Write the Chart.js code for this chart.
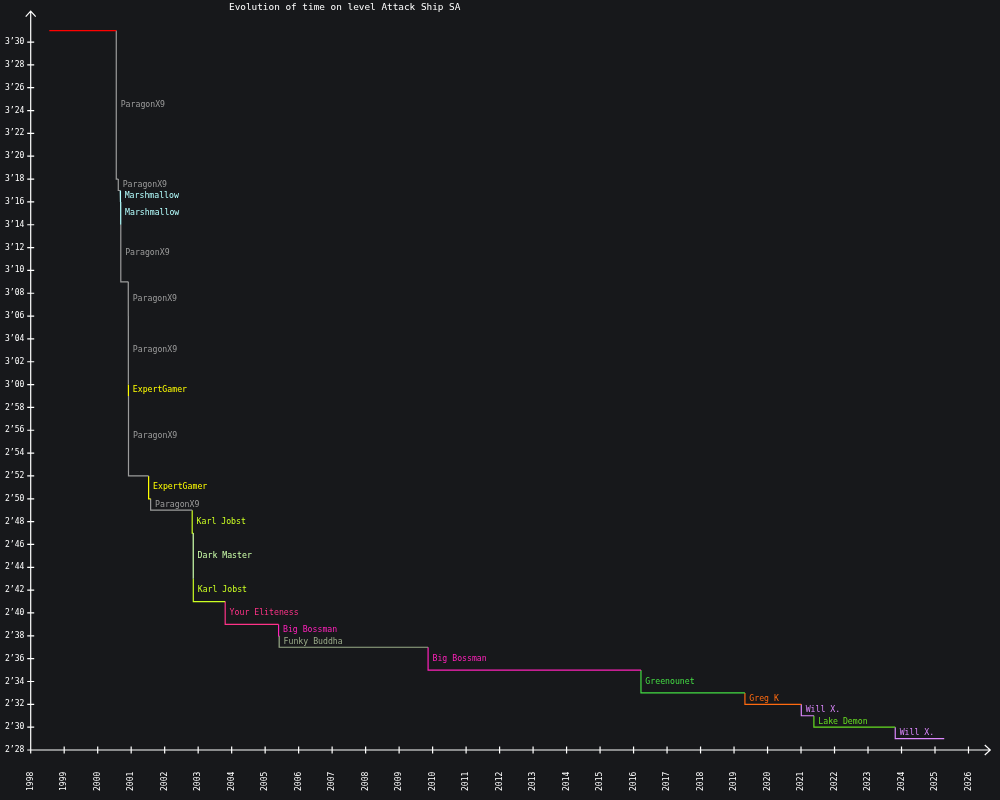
<!DOCTYPE html>
<html>
<head>
<meta charset="utf-8">
<script src="https://cdn.jsdelivr.net/npm/chart.js@4/dist/chart.umd.min.js"></script>
<style>
  html, body { margin: 0; padding: 0; background: #17181b; }
  #wrap { width: 1000px; height: 800px; }
</style>
</head>
<body>
<div id="wrap"><canvas id="c" width="1000" height="800"></canvas></div>
<script>
// ---- data ----
const chartTitle = "Evolution of time on level Attack Ship SA";
const holders = ["", "ParagonX9", "ParagonX9", "Marshmallow", "Marshmallow", "ParagonX9",
  "ParagonX9", "ParagonX9", "ExpertGamer", "ParagonX9", "ExpertGamer", "ParagonX9",
  "Karl Jobst", "Dark Master", "Karl Jobst", "Your Eliteness", "Big Bossman", "Funky Buddha",
  "Big Bossman", "Greenounet", "Greg K", "Will X.", "Lake Demon", "Will X."];
const recordDates = [1998.555, 2000.555, 2000.615, 2000.674, 2000.686, 2000.69,
  2000.913, 2000.915, 2000.917, 2000.92, 2001.521, 2001.581,
  2002.822, 2002.852, 2002.855, 2003.807, 2005.401, 2005.419,
  2009.865, 2016.221, 2019.325, 2021.008, 2021.384, 2023.813];
const recordTimes = [211, 198, 197, 196, 194, 189,
  186, 180, 179, 172, 170, 169,
  167, 163, 161, 159, 158, 157,
  155, 153, 152, 151, 150, 149];
const lastDate = 2025.275;
const holderColors = ["#ff0000", "#9c9c9c", "#9c9c9c", "#b4ffff", "#b4ffff", "#9c9c9c",
  "#9c9c9c", "#9c9c9c", "#ffff00", "#9c9c9c", "#ffff00", "#9c9c9c",
  "#ccff22", "#ccffaa", "#ccff22", "#ff3388", "#ff22bb", "#99aa88",
  "#ff22bb", "#44dd44", "#ff6a10", "#dd88ff", "#66dd22", "#dd88ff"];
const xTickYears = [1998,1999,2000,2001,2002,2003,2004,2005,2006,2007,2008,2009,2010,2011,
  2012,2013,2014,2015,2016,2017,2018,2019,2020,2021,2022,2023,2024,2025,2026];
const yTickSeconds = [148,150,152,154,156,158,160,162,164,166,168,170,172,174,176,178,180,
  182,184,186,188,190,192,194,196,198,200,202,204,206,208,210];

const FONT = "'DejaVu Sans Mono', monospace";

function fmtTime(v) {
  const m = Math.floor(v / 60), s = Math.round(v - m * 60);
  return m + "\u2019" + String(s).padStart(2, "0");
}

// ---- datasets: one step (vertical drop + horizontal run) per record ----
const datasets = recordDates.map((d, i) => {
  const next = i + 1 < recordDates.length ? recordDates[i + 1] : lastDate;
  const pts = [];
  if (i > 0) pts.push({ x: d, y: recordTimes[i - 1] });
  pts.push({ x: d, y: recordTimes[i] });
  pts.push({ x: next, y: recordTimes[i] });
  return {
    data: pts,
    showLine: true,
    borderColor: holderColors[i],
    backgroundColor: holderColors[i],
    borderWidth: 1.2,
    pointRadius: 0,
    tension: 0,
    fill: false
  };
});

const overlay = {
  id: "overlay",
  afterDraw(chart) {
    const ctx = chart.ctx, xs = chart.scales.x, ys = chart.scales.y;
    const a = chart.chartArea;
    ctx.save();
    // title
    ctx.fillStyle = "#ffffff";
    ctx.font = "9.4px " + FONT;
    ctx.textAlign = "left";
    ctx.textBaseline = "middle";
    ctx.fillText(chartTitle, 229, 8);
    // axes
    ctx.strokeStyle = "#ffffff";
    ctx.lineWidth = 1.2;
    ctx.beginPath();
    ctx.moveTo(a.left, a.bottom); ctx.lineTo(a.left, a.top);
    ctx.moveTo(a.left - 5, a.top + 5.5); ctx.lineTo(a.left, a.top); ctx.lineTo(a.left + 5, a.top + 5.5);
    ctx.moveTo(a.left, a.bottom); ctx.lineTo(a.right, a.bottom);
    ctx.moveTo(a.right - 5.5, a.bottom - 5); ctx.lineTo(a.right, a.bottom); ctx.lineTo(a.right - 5.5, a.bottom + 5);
    xTickYears.forEach(v => {
      const px = xs.getPixelForValue(v);
      ctx.moveTo(px, a.bottom - 3.5); ctx.lineTo(px, a.bottom + 3.5);
    });
    yTickSeconds.forEach(v => {
      const py = ys.getPixelForValue(v);
      ctx.moveTo(a.left - 3.5, py); ctx.lineTo(a.left + 3.5, py);
    });
    ctx.stroke();
    // holder labels at the middle of each drop
    ctx.font = "8.2px " + FONT;
    ctx.textAlign = "left";
    ctx.textBaseline = "middle";
    for (let i = 1; i < recordDates.length; i++) {
      const px = xs.getPixelForValue(recordDates[i]) + 4.4;
      const py = (ys.getPixelForValue(recordTimes[i - 1]) + ys.getPixelForValue(recordTimes[i])) / 2;
      ctx.fillStyle = holderColors[i];
      ctx.fillText(holders[i], px, py);
    }
    ctx.restore();
  }
};

new Chart(document.getElementById("c"), {
  type: "scatter",
  data: { datasets },
  options: {
    responsive: false,
    animation: false,
    layout: { padding: { left: 0, top: 10, right: 9.3, bottom: 0 } },
    plugins: { legend: { display: false }, tooltip: { enabled: false }, title: { display: false } },
    scales: {
      x: {
        type: "linear",
        min: 1998, max: 2026.65,
        grid: { display: false, drawTicks: false },
        border: { display: false },
        afterFit(s) { s.height = 50; },
        afterBuildTicks(s) { s.ticks = xTickYears.map(v => ({ value: v })); },
        ticks: {
          autoSkip: false, minRotation: 90, maxRotation: 90, padding: 21.7,
          color: "#ffffff", font: { family: FONT, size: 8 },
          callback: v => String(v)
        }
      },
      y: {
        type: "linear",
        min: 148, max: 212.7,
        grid: { display: false, drawTicks: false },
        border: { display: false },
        afterFit(s) { s.width = 30.7; },
        afterBuildTicks(s) { s.ticks = yTickSeconds.map(v => ({ value: v })); },
        ticks: {
          autoSkip: false, padding: 6.4,
          color: "#ffffff", font: { family: FONT, size: 8 },
          callback: v => fmtTime(v)
        }
      }
    }
  },
  plugins: [overlay]
});
</script>
</body>
</html>
